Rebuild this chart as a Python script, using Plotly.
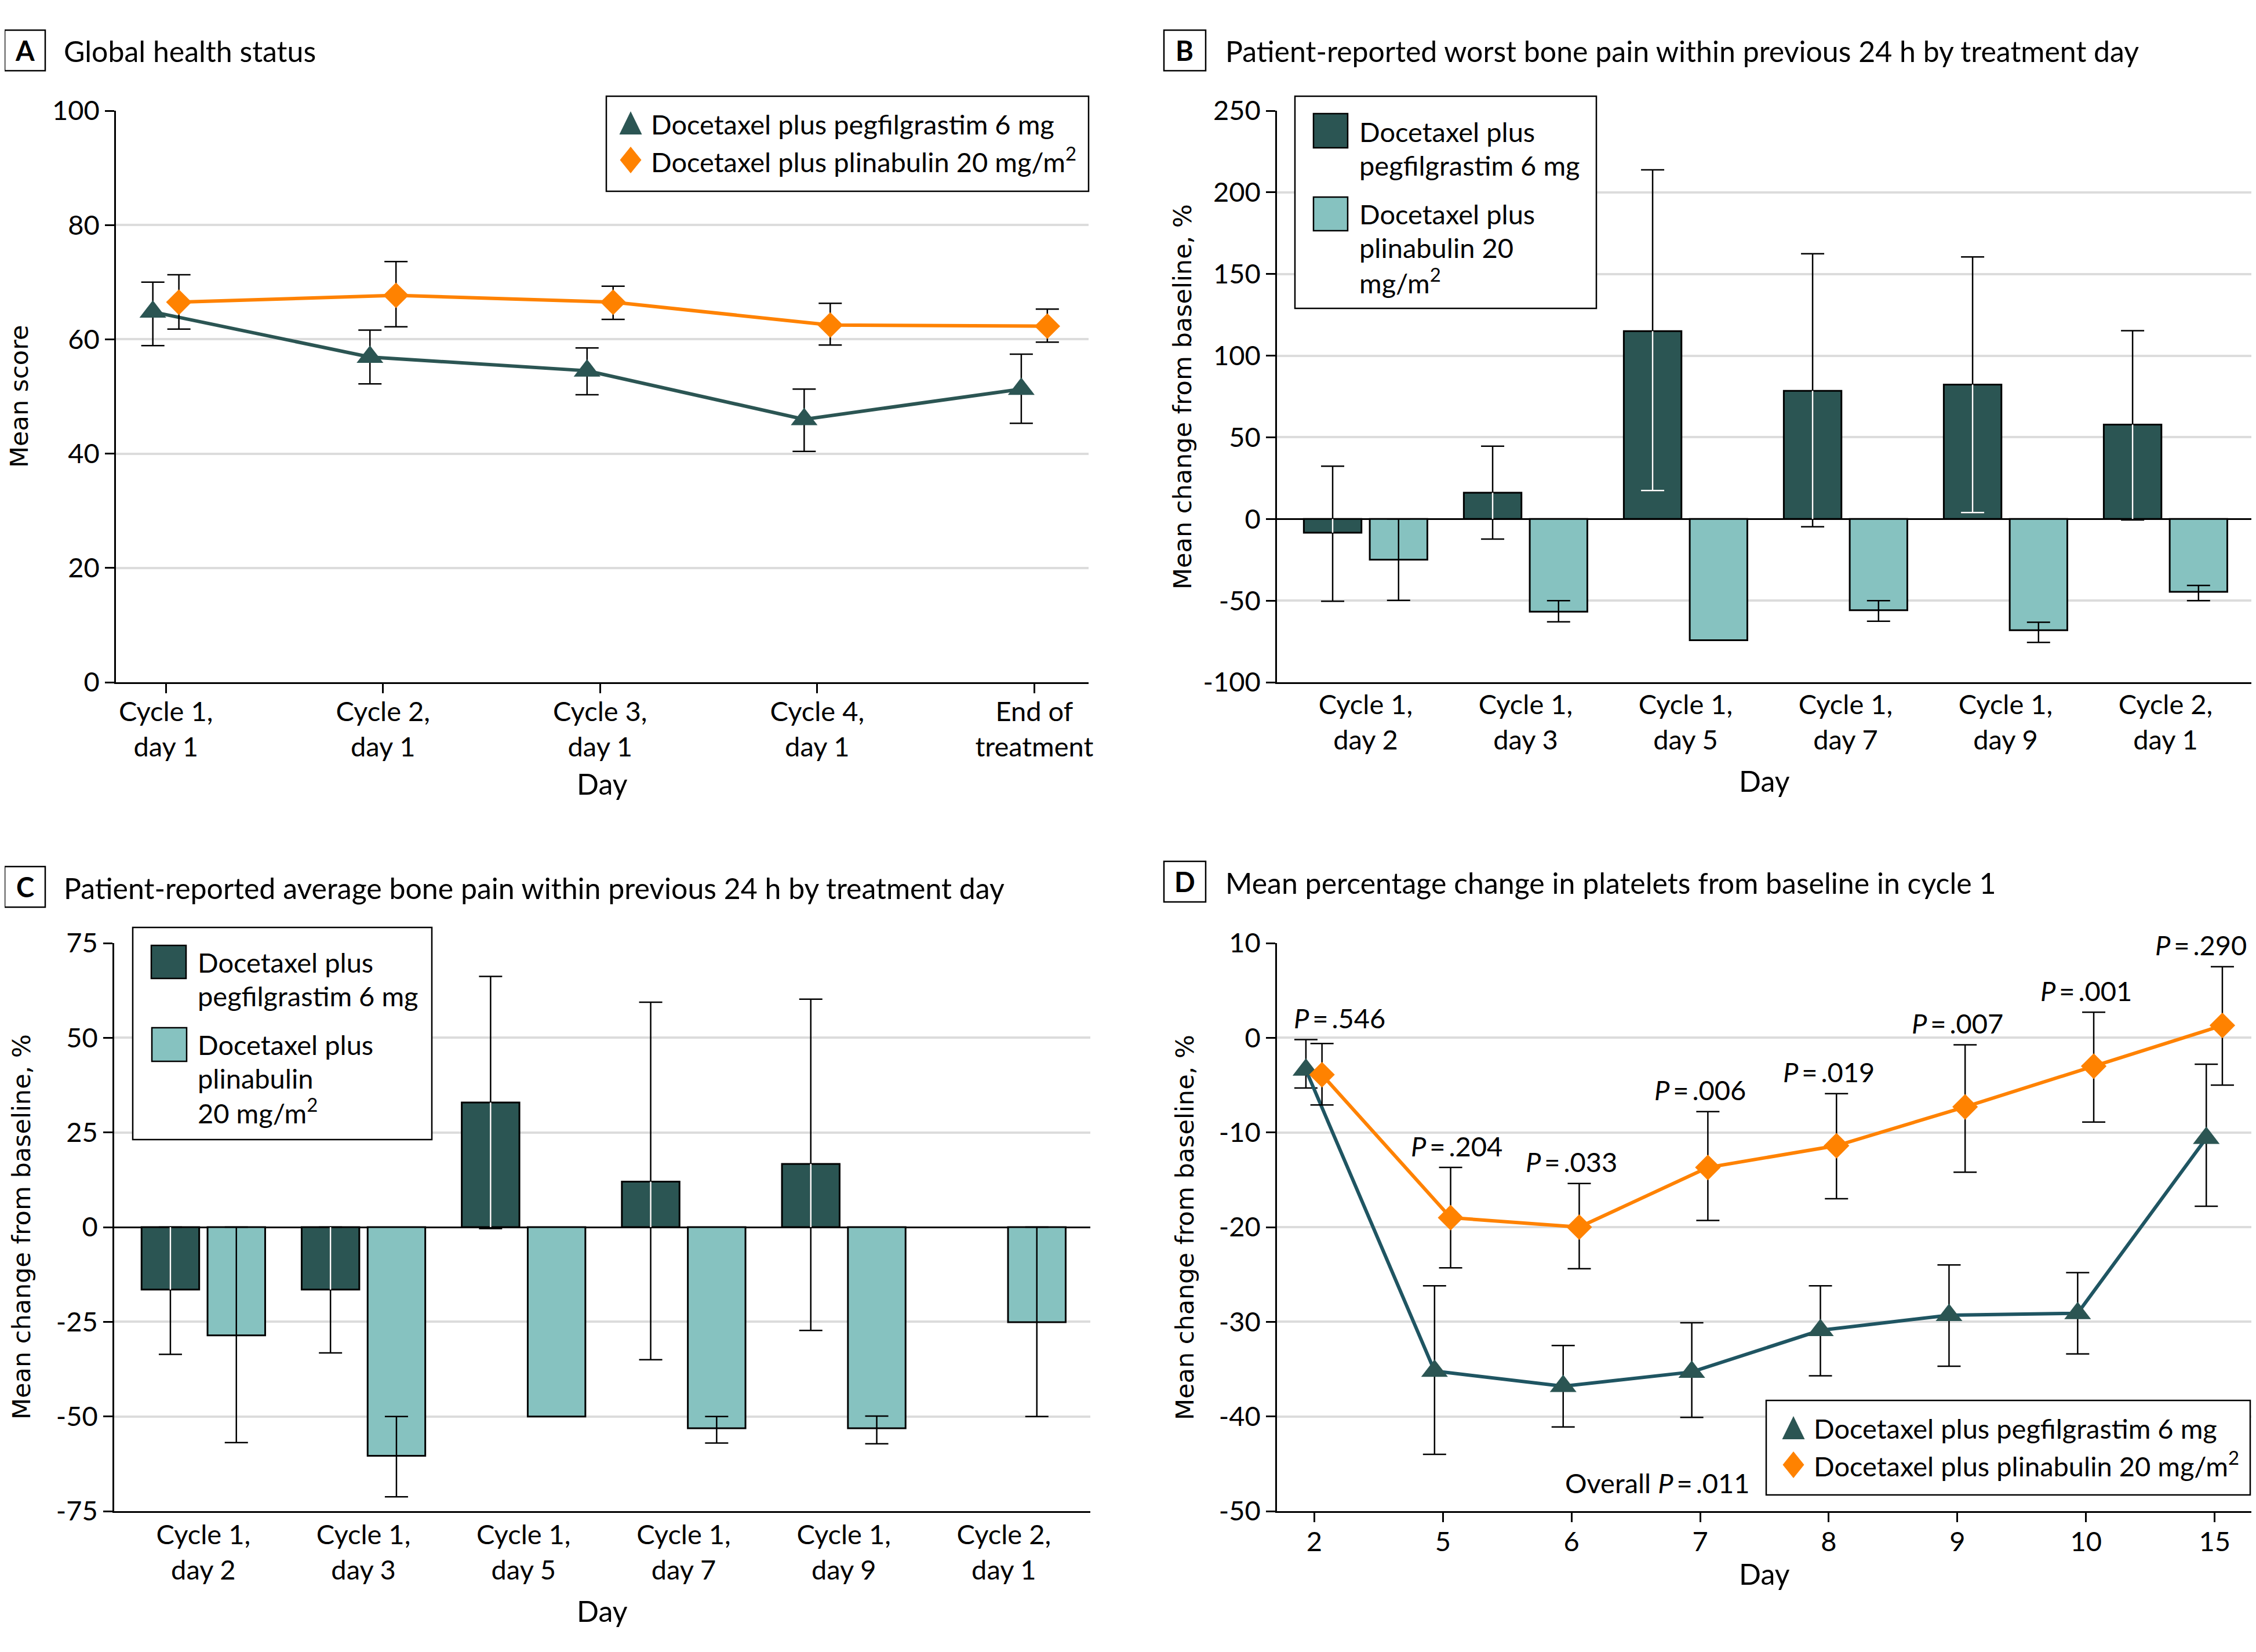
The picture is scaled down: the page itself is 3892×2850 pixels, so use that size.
import plotly.graph_objects as go

# ---------------- data ----------------
# Panel A: Global health status (mean score, 95% CI)
a_cats = ["Cycle 1,<br>day 1", "Cycle 2,<br>day 1", "Cycle 3,<br>day 1", "Cycle 4,<br>day 1", "End of<br>treatment"]
a_peg_mean = [64.8, 56.9, 54.5, 46.0, 51.3]
a_peg_hi = [70.0, 61.6, 58.5, 51.3, 57.4]
a_peg_lo = [58.9, 52.2, 50.3, 40.4, 45.3]
a_pli_mean = [66.5, 67.7, 66.5, 62.5, 62.3]
a_pli_hi = [71.3, 73.6, 69.3, 66.3, 65.3]
a_pli_lo = [61.8, 62.2, 63.5, 59.0, 59.5]
a_yticks = [0, 20, 40, 60, 80, 100]

# Panels B and C: categories
bc_cats = ["Cycle 1,<br>day 2", "Cycle 1,<br>day 3", "Cycle 1,<br>day 5",
           "Cycle 1,<br>day 7", "Cycle 1,<br>day 9", "Cycle 2,<br>day 1"]

# Panel B: worst bone pain, mean % change from baseline
b_peg_mean = [-8.4, 16.1, 115.0, 78.5, 82.3, 57.8]
b_peg_hi = [32.3, 44.6, 213.8, 162.4, 160.5, 115.3]
b_peg_lo = [-50.4, -12.3, 17.4, -4.8, 3.9, -0.6]
b_pli_mean = [-24.9, -56.8, -74.3, -55.9, -68.1, -44.6]
b_pli_hi = [0.0, -50.0, None, -50.0, -63.3, -40.7]
b_pli_lo = [-49.9, -63.0, None, -62.6, -75.6, -50.0]
b_yticks = [-100, -50, 0, 50, 100, 150, 200, 250]

# Panel C: average bone pain, mean % change from baseline
c_peg_mean = [-16.5, -16.5, 32.9, 12.0, 16.7, None]
c_peg_hi = [0.0, 0.0, 66.2, 59.4, 60.2, None]
c_peg_lo = [-33.6, -33.2, -0.4, -35.0, -27.3, None]
c_pli_mean = [-28.6, -60.4, -50.0, -53.1, -53.1, -25.1]
c_pli_hi = [0.0, -50.0, None, -50.0, -49.9, 0.0]
c_pli_lo = [-56.9, -71.2, None, -57.0, -57.2, -50.0]
c_yticks = [-75, -50, -25, 0, 25, 50, 75]

# Panel D: platelets, mean % change from baseline in cycle 1
d_days = ["2", "5", "6", "7", "8", "9", "10", "15"]
d_peg_mean = [-3.4, -35.2, -36.8, -35.3, -30.9, -29.3, -29.1, -10.6]
d_peg_hi = [-0.2, -26.2, -32.5, -30.1, -26.2, -24.0, -24.8, -2.8]
d_peg_lo = [-5.3, -44.0, -41.1, -40.1, -35.7, -34.7, -33.4, -17.8]
d_pli_mean = [-3.9, -19.0, -20.0, -13.7, -11.4, -7.3, -3.0, 1.3]
d_pli_hi = [-0.6, -13.7, -15.4, -7.8, -5.9, -0.75, 2.7, 7.5]
d_pli_lo = [-7.1, -24.3, -24.4, -19.3, -17.0, -14.2, -8.9, -5.0]
d_pvals = [".546", ".204", ".033", ".006", ".019", ".007", ".001", ".290"]
d_overall_p = ".011"
d_yticks = [-50, -40, -30, -20, -10, 0, 10]

peg_name = "Docetaxel plus pegfilgrastim 6 mg"
pli_name = "Docetaxel plus plinabulin 20 mg/m<sup>2</sup>"

# ---------------- style ----------------
W, H = 3892, 2850          # browser window
PAD = 8                    # default page margin in front of the figure
FW, FH = W - PAD, H - PAD
TEAL = "#2b5553"
TEAL_LINE_D = "#1f5562"
LIGHT = "#86c2c0"
ORANGE = "#ff8200"
GRID = "#dcdcdc"
FONT = "Lato, 'Open Sans', sans-serif"
AXFONT = "'DejaVu Sans', sans-serif"
FS = 47
TS = "\u2009"  # thin space


def fx(p):
    return (p - PAD) / FW


def fy(p):
    return 1 - (p - PAD) / FH


# plot areas in window pixels: (x0, x1), (ytop, ybottom)
DOM = {
    1: ((200, 1878), (191, 1177)),
    2: ((2203, 3885), (191, 1177)),
    3: ((197, 1881), (1627, 2607)),
    4: ((2203, 3885), (1627, 2607)),
}
XR = {1: [-0.23, 4.25], 2: [-0.554, 5.54], 3: [-0.557, 5.54], 4: [-0.29, 7.29]}
YR = {1: [0, 100], 2: [-100, 250], 3: [-75, 75], 4: [-50, 10]}

fig = go.Figure()


def ax(k):
    return ("x" if k == 1 else f"x{k}", "y" if k == 1 else f"y{k}")


def cap_units(k, cap_px=20):
    (x0, x1), _ = DOM[k]
    return cap_px * (XR[k][1] - XR[k][0]) / (x1 - x0)


def line_panel(k, xs, series):
    xn, yn = ax(k)
    for mean, hi, lo, off, lcol, mcol, sym, size in series:
        fig.add_trace(go.Scatter(
            x=[i + off for i in xs], y=mean, mode="lines+markers",
            line=dict(color=lcol, width=6),
            marker=dict(symbol=sym, size=size, color=mcol),
            error_y=dict(type="data", symmetric=False,
                         array=[h - m for h, m in zip(hi, mean)],
                         arrayminus=[m - l for m, l in zip(mean, lo)],
                         color="black", thickness=2.5, width=20),
            xaxis=xn, yaxis=yn, showlegend=False))


# ---------- Panel A ----------
xa = list(range(len(a_cats)))
line_panel(1, xa, [
    (a_peg_mean, a_peg_hi, a_peg_lo, -0.06, TEAL, TEAL, "triangle-up", 40),
    (a_pli_mean, a_pli_hi, a_pli_lo, 0.06, ORANGE, ORANGE, "diamond", 34),
])

# ---------- Panel D ----------
xd = list(range(len(d_days)))
line_panel(4, xd, [
    (d_peg_mean, d_peg_hi, d_peg_lo, -0.065, TEAL_LINE_D, TEAL, "triangle-up", 40),
    (d_pli_mean, d_pli_hi, d_pli_lo, 0.06, ORANGE, ORANGE, "diamond", 34),
])

# ---------- Panels B & C (bars) ----------
OFF, BW = 0.206, 0.36


def bar_panel(k, peg_m, peg_h, peg_l, pli_m, pli_h, pli_l):
    xn, yn = ax(k)
    xs = list(range(len(bc_cats)))
    xp = [i - OFF for i in xs]
    xl = [i + OFF for i in xs]
    fig.add_trace(go.Bar(x=xp, y=peg_m, width=BW,
                         marker=dict(color=TEAL, line=dict(color="black", width=3)),
                         xaxis=xn, yaxis=yn, showlegend=False))
    fig.add_trace(go.Bar(x=xl, y=pli_m, width=BW,
                         marker=dict(color=LIGHT, line=dict(color="black", width=3)),
                         xaxis=xn, yaxis=yn, showlegend=False))
    cw = cap_units(k)
    # black error bars
    X, Y = [], []
    for xx, lo, hi in list(zip(xp, peg_l, peg_h)) + list(zip(xl, pli_l, pli_h)):
        if lo is None or hi is None:
            continue
        X += [xx, xx, None, xx - cw, xx + cw, None, xx - cw, xx + cw, None]
        Y += [lo, hi, None, lo, lo, None, hi, hi, None]
    fig.add_trace(go.Scatter(x=X, y=Y, mode="lines", line=dict(color="black", width=2.5),
                             xaxis=xn, yaxis=yn, showlegend=False, hoverinfo="skip"))
    # white part of the error bar inside the dark bars
    X, Y = [], []
    for xx, m, lo, hi in zip(xp, peg_m, peg_l, peg_h):
        if m is None:
            continue
        a, b = min(0, m), max(0, m)
        s0, s1 = max(lo, a), min(hi, b)
        if s1 > s0:
            X += [xx, xx, None]
            Y += [s0, s1, None]
        for v in (lo, hi):
            if a < v < b:
                X += [xx - cw, xx + cw, None]
                Y += [v, v, None]
    fig.add_trace(go.Scatter(x=X, y=Y, mode="lines", line=dict(color="white", width=2.5),
                             xaxis=xn, yaxis=yn, showlegend=False, hoverinfo="skip"))


bar_panel(2, b_peg_mean, b_peg_hi, b_peg_lo, b_pli_mean, b_pli_hi, b_pli_lo)
bar_panel(3, c_peg_mean, c_peg_hi, c_peg_lo, c_pli_mean, c_pli_hi, c_pli_lo)

# ---------------- axes ----------------
tickfont = dict(family=FONT, size=FS, color="black")
layout_axes = {}
xt = {1: (list(range(len(a_cats))), a_cats), 2: (list(range(len(bc_cats))), bc_cats),
      3: (list(range(len(bc_cats))), bc_cats), 4: (list(range(len(d_days))), d_days)}
yt = {1: a_yticks, 2: b_yticks, 3: c_yticks, 4: d_yticks}
xstand = {1: -8, 2: -4, 3: -2, 4: -6}
for k in (1, 2, 3, 4):
    (x0, x1), (yt0, yb) = DOM[k]
    xn, yn = ax(k)
    xkey = "xaxis" if k == 1 else f"xaxis{k}"
    ykey = "yaxis" if k == 1 else f"yaxis{k}"
    layout_axes[xkey] = dict(
        domain=[fx(x0), min(1.0, fx(x1))], anchor=yn, range=XR[k], automargin=False,
        tickmode="array", tickvals=xt[k][0], ticktext=xt[k][1],
        ticks="outside" if k in (1, 4) else "", ticklen=16, tickwidth=2.5, tickcolor="black",
        ticklabelstandoff=xstand[k],
        showline=True, linecolor="black", linewidth=2.5,
        showgrid=False, zeroline=False, tickfont=tickfont, fixedrange=True)
    layout_axes[ykey] = dict(
        domain=[fy(yb), fy(yt0)], anchor=xn, range=YR[k], automargin=False,
        tickmode="array", tickvals=yt[k], ticktext=[str(v) for v in yt[k]],
        ticks="outside", ticklen=16, tickwidth=2.5, tickcolor="black",
        showline=True, linecolor="black", linewidth=2.5,
        showgrid=True, gridcolor=GRID, gridwidth=4,
        zeroline=k in (2, 3), zerolinecolor="black", zerolinewidth=2.5,
        tickfont=tickfont, fixedrange=True)

# ---------------- shapes & annotations ----------------
shapes = []
annotations = []


def rect_px(x0, y0, x1, y1, fill="white", lw=2.5, lc="black"):
    shapes.append(dict(type="rect", xref="paper", yref="paper",
                       x0=fx(x0), x1=fx(x1), y0=fy(y1), y1=fy(y0),
                       fillcolor=fill, line=dict(color=lc, width=lw), layer="above"))


def text_px(x, y, text, size=FS, family=FONT, xanchor="left", yanchor="middle", angle=0):
    annotations.append(dict(xref="paper", yref="paper", x=fx(x), y=fy(y), text=text,
                            showarrow=False, xanchor=xanchor, yanchor=yanchor,
                            textangle=angle,
                            font=dict(size=size, family=family, color="black")))


def tri_px(cx, cy, w, h, color):
    path = (f"M {fx(cx - w / 2)} {fy(cy + h / 2)} L {fx(cx + w / 2)} {fy(cy + h / 2)} "
            f"L {fx(cx)} {fy(cy - h / 2)} Z")
    shapes.append(dict(type="path", xref="paper", yref="paper", path=path,
                       fillcolor=color, line=dict(color=color, width=0), layer="above"))


def dia_px(cx, cy, w, h, color):
    path = (f"M {fx(cx)} {fy(cy - h / 2)} L {fx(cx + w / 2)} {fy(cy)} "
            f"L {fx(cx)} {fy(cy + h / 2)} L {fx(cx - w / 2)} {fy(cy)} Z")
    shapes.append(dict(type="path", xref="paper", yref="paper", path=path,
                       fillcolor=color, line=dict(color=color, width=0), layer="above"))


# panel letters and titles
for letter, (bx0, by0, bx1, by1), tx, ty, title in [
    ("A", (8, 52, 78, 122), 108, 88, "Global health status"),
    ("B", (2008, 52, 2080, 122), 2112, 88,
     "Patient-reported worst bone pain within previous 24 h by treatment day"),
    ("C", (8, 1495, 78, 1565), 108, 1532,
     "Patient-reported average bone pain within previous 24 h by treatment day"),
    ("D", (2008, 1486, 2080, 1556), 2112, 1523,
     "Mean percentage change in platelets from baseline in cycle 1"),
]:
    rect_px(bx0, by0, bx1, by1, lw=2.5)
    text_px((bx0 + bx1) / 2, (by0 + by1) / 2, f"<b>{letter}</b>", size=47, xanchor="center")
    text_px(tx, ty, title, size=50)

# axis titles
text_px(33, 684, "Mean score", size=43, family=AXFONT, xanchor="center", angle=-90)
text_px(2040, 684, "Mean change from baseline, %", size=43, family=AXFONT, xanchor="center", angle=-90)
text_px(37, 2117, "Mean change from baseline, %", size=43, family=AXFONT, xanchor="center", angle=-90)
text_px(2044, 2117, "Mean change from baseline, %", size=43, family=AXFONT, xanchor="center", angle=-90)
text_px(1039, 1352, "Day", size=50, xanchor="center")
text_px(3044, 1347, "Day", size=50, xanchor="center")
text_px(1039, 2779, "Day", size=50, xanchor="center")
text_px(3044, 2715, "Day", size=50, xanchor="center")

# legend A
rect_px(1046, 166, 1878, 330)
tri_px(1088, 212, 39, 40, TEAL)
dia_px(1088, 276, 37, 46, ORANGE)
text_px(1121, 214, peg_name)
text_px(1121, 276, pli_name)

# legend D
rect_px(3047, 2416, 3882, 2579)
tri_px(3094, 2463, 39, 40, TEAL)
dia_px(3094, 2527, 37, 46, ORANGE)
text_px(3127, 2464, peg_name)
text_px(3127, 2526, pli_name)

# legend B
rect_px(2234, 166, 2754, 532)
rect_px(2266, 196, 2325, 255, fill=TEAL, lw=2.5)
rect_px(2266, 340, 2325, 398, fill=LIGHT, lw=2.5)
for yy, t in [(227, "Docetaxel plus"), (285, "pegfilgrastim 6 mg"),
              (369, "Docetaxel plus"), (427, "plinabulin 20"), (485, "mg/m<sup>2</sup>")]:
    text_px(2343, yy, t)

# legend C
rect_px(229, 1600, 745, 1966)
rect_px(261, 1631, 321, 1688, fill=TEAL, lw=2.5)
rect_px(262, 1773, 322, 1831, fill=LIGHT, lw=2.5)
for yy, t in [(1660, "Docetaxel plus"), (1718, "pegfilgrastim 6 mg"),
              (1802, "Docetaxel plus"), (1860, "plinabulin"), (1917, "20 mg/m<sup>2</sup>")]:
    text_px(339, yy, t)

# P values in panel D (placed above the upper CI of each day)
p_xshift = [44, 24, 0, 0, 0, 0, 0, -24]
for i, p in enumerate(d_pvals):
    annotations.append(dict(
        xref="x4", yref="y4", x=xd[i], y=max(d_peg_hi[i], d_pli_hi[i]) + 2.3,
        text=f"<i>P</i>{TS}={TS}{p}", showarrow=False, xanchor="center", yanchor="middle",
        xshift=p_xshift[i], font=dict(size=FS, family=FONT, color="black")))
annotations.append(dict(
    xref="x4", yref="y4", x=2.67, y=-47.0, text=f"Overall <i>P</i>{TS}={TS}{d_overall_p}",
    showarrow=False, xanchor="center", yanchor="middle",
    font=dict(size=FS, family=FONT, color="black")))

fig.update_layout(
    width=FW, height=FH, margin=dict(l=0, r=0, t=0, b=0, pad=0, autoexpand=False),
    paper_bgcolor="white", plot_bgcolor="white",
    barmode="overlay", showlegend=False,
    font=dict(family=FONT, size=FS, color="black"),
    shapes=shapes, annotations=annotations, **layout_axes)

fig.write_html("out.html")
